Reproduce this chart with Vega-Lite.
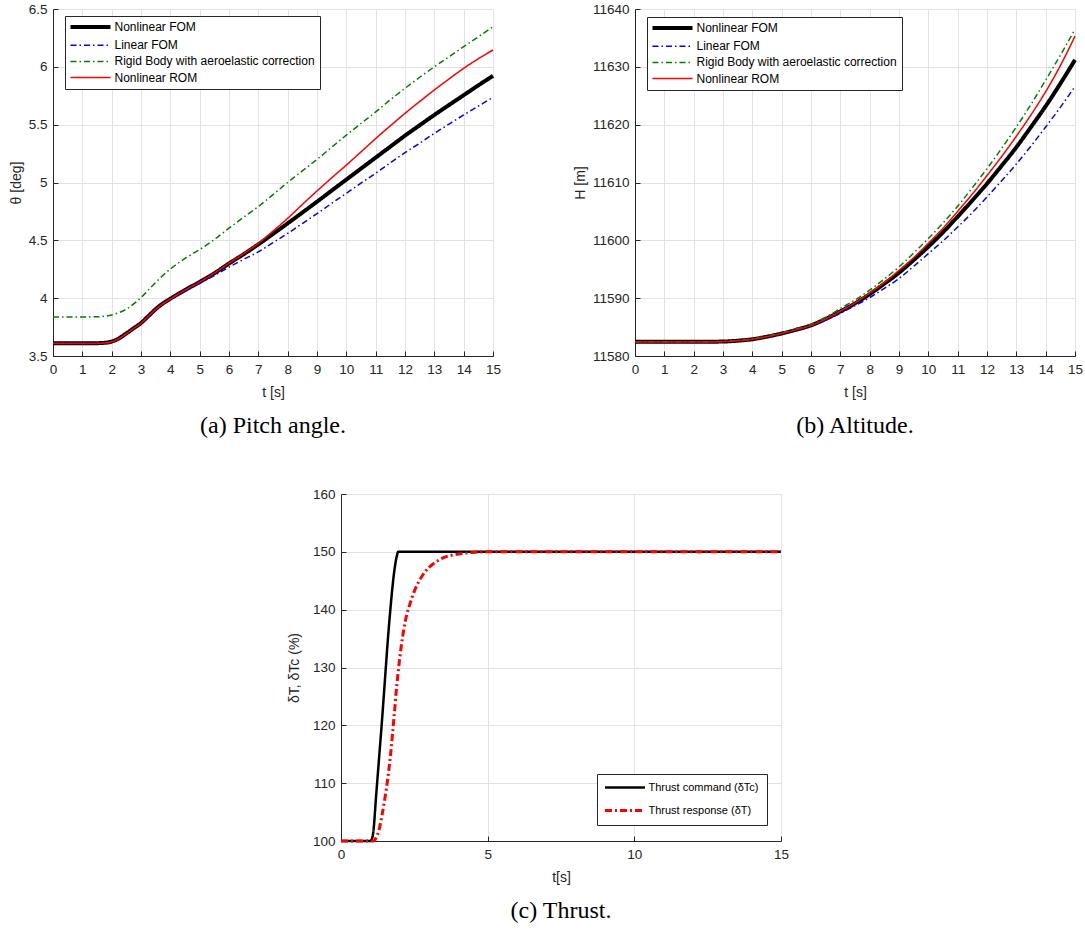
{
  "$schema": "https://vega.github.io/schema/vega-lite/v6.json",
  "padding": {"left": 9, "top": 2, "right": 0, "bottom": 0},
  "background": "white",
  "datasets": {
    "theta": [
      {"t": 0, "v": 3.61, "s": "Nonlinear FOM"}, {"t": 1, "v": 3.61, "s": "Nonlinear FOM"}, {"t": 1.5, "v": 3.611, "s": "Nonlinear FOM"}, {"t": 1.8, "v": 3.615, "s": "Nonlinear FOM"}, {"t": 2, "v": 3.625, "s": "Nonlinear FOM"}, {"t": 2.25, "v": 3.652, "s": "Nonlinear FOM"}, {"t": 2.5, "v": 3.695, "s": "Nonlinear FOM"}, {"t": 2.75, "v": 3.74, "s": "Nonlinear FOM"}, {"t": 3, "v": 3.785, "s": "Nonlinear FOM"}, {"t": 3.25, "v": 3.845, "s": "Nonlinear FOM"}, {"t": 3.5, "v": 3.905, "s": "Nonlinear FOM"}, {"t": 3.75, "v": 3.955, "s": "Nonlinear FOM"}, {"t": 4, "v": 3.995, "s": "Nonlinear FOM"}, {"t": 4.5, "v": 4.07, "s": "Nonlinear FOM"}, {"t": 5, "v": 4.14, "s": "Nonlinear FOM"}, {"t": 5.5, "v": 4.215, "s": "Nonlinear FOM"}, {"t": 6, "v": 4.3, "s": "Nonlinear FOM"}, {"t": 6.5, "v": 4.38, "s": "Nonlinear FOM"}, {"t": 7, "v": 4.465, "s": "Nonlinear FOM"}, {"t": 7.5, "v": 4.555, "s": "Nonlinear FOM"}, {"t": 8, "v": 4.647, "s": "Nonlinear FOM"}, {"t": 8.5, "v": 4.74, "s": "Nonlinear FOM"}, {"t": 9, "v": 4.834, "s": "Nonlinear FOM"}, {"t": 9.5, "v": 4.93, "s": "Nonlinear FOM"}, {"t": 10, "v": 5.025, "s": "Nonlinear FOM"}, {"t": 10.5, "v": 5.12, "s": "Nonlinear FOM"}, {"t": 11, "v": 5.215, "s": "Nonlinear FOM"}, {"t": 11.5, "v": 5.31, "s": "Nonlinear FOM"}, {"t": 12, "v": 5.405, "s": "Nonlinear FOM"}, {"t": 12.5, "v": 5.495, "s": "Nonlinear FOM"}, {"t": 13, "v": 5.584, "s": "Nonlinear FOM"}, {"t": 13.5, "v": 5.67, "s": "Nonlinear FOM"}, {"t": 14, "v": 5.755, "s": "Nonlinear FOM"}, {"t": 14.5, "v": 5.84, "s": "Nonlinear FOM"}, {"t": 15, "v": 5.922, "s": "Nonlinear FOM"},
      {"t": 0, "v": 3.61, "s": "Linear FOM"}, {"t": 1, "v": 3.61, "s": "Linear FOM"}, {"t": 1.5, "v": 3.611, "s": "Linear FOM"}, {"t": 1.8, "v": 3.615, "s": "Linear FOM"}, {"t": 2, "v": 3.625, "s": "Linear FOM"}, {"t": 2.25, "v": 3.652, "s": "Linear FOM"}, {"t": 2.5, "v": 3.695, "s": "Linear FOM"}, {"t": 2.75, "v": 3.74, "s": "Linear FOM"}, {"t": 3, "v": 3.785, "s": "Linear FOM"}, {"t": 3.25, "v": 3.845, "s": "Linear FOM"}, {"t": 3.5, "v": 3.903, "s": "Linear FOM"}, {"t": 3.75, "v": 3.952, "s": "Linear FOM"}, {"t": 4, "v": 3.99, "s": "Linear FOM"}, {"t": 4.5, "v": 4.06, "s": "Linear FOM"}, {"t": 5, "v": 4.128, "s": "Linear FOM"}, {"t": 5.5, "v": 4.195, "s": "Linear FOM"}, {"t": 6, "v": 4.268, "s": "Linear FOM"}, {"t": 6.5, "v": 4.335, "s": "Linear FOM"}, {"t": 7, "v": 4.4, "s": "Linear FOM"}, {"t": 7.5, "v": 4.48, "s": "Linear FOM"}, {"t": 8, "v": 4.56, "s": "Linear FOM"}, {"t": 8.5, "v": 4.645, "s": "Linear FOM"}, {"t": 9, "v": 4.73, "s": "Linear FOM"}, {"t": 9.5, "v": 4.82, "s": "Linear FOM"}, {"t": 10, "v": 4.906, "s": "Linear FOM"}, {"t": 10.5, "v": 4.995, "s": "Linear FOM"}, {"t": 11, "v": 5.08, "s": "Linear FOM"}, {"t": 11.5, "v": 5.17, "s": "Linear FOM"}, {"t": 12, "v": 5.258, "s": "Linear FOM"}, {"t": 12.5, "v": 5.34, "s": "Linear FOM"}, {"t": 13, "v": 5.425, "s": "Linear FOM"}, {"t": 13.5, "v": 5.505, "s": "Linear FOM"}, {"t": 14, "v": 5.584, "s": "Linear FOM"}, {"t": 14.5, "v": 5.66, "s": "Linear FOM"}, {"t": 15, "v": 5.736, "s": "Linear FOM"},
      {"t": 0, "v": 3.838, "s": "Rigid Body with aeroelastic correction"}, {"t": 1, "v": 3.838, "s": "Rigid Body with aeroelastic correction"}, {"t": 1.5, "v": 3.839, "s": "Rigid Body with aeroelastic correction"}, {"t": 1.8, "v": 3.845, "s": "Rigid Body with aeroelastic correction"}, {"t": 2, "v": 3.855, "s": "Rigid Body with aeroelastic correction"}, {"t": 2.25, "v": 3.875, "s": "Rigid Body with aeroelastic correction"}, {"t": 2.5, "v": 3.905, "s": "Rigid Body with aeroelastic correction"}, {"t": 2.75, "v": 3.95, "s": "Rigid Body with aeroelastic correction"}, {"t": 3, "v": 4.005, "s": "Rigid Body with aeroelastic correction"}, {"t": 3.25, "v": 4.07, "s": "Rigid Body with aeroelastic correction"}, {"t": 3.5, "v": 4.135, "s": "Rigid Body with aeroelastic correction"}, {"t": 3.75, "v": 4.198, "s": "Rigid Body with aeroelastic correction"}, {"t": 4, "v": 4.252, "s": "Rigid Body with aeroelastic correction"}, {"t": 4.5, "v": 4.343, "s": "Rigid Body with aeroelastic correction"}, {"t": 5, "v": 4.42, "s": "Rigid Body with aeroelastic correction"}, {"t": 5.5, "v": 4.507, "s": "Rigid Body with aeroelastic correction"}, {"t": 6, "v": 4.605, "s": "Rigid Body with aeroelastic correction"}, {"t": 6.5, "v": 4.7, "s": "Rigid Body with aeroelastic correction"}, {"t": 7, "v": 4.792, "s": "Rigid Body with aeroelastic correction"}, {"t": 7.5, "v": 4.895, "s": "Rigid Body with aeroelastic correction"}, {"t": 8, "v": 5.0, "s": "Rigid Body with aeroelastic correction"}, {"t": 8.5, "v": 5.1, "s": "Rigid Body with aeroelastic correction"}, {"t": 9, "v": 5.2, "s": "Rigid Body with aeroelastic correction"}, {"t": 9.5, "v": 5.305, "s": "Rigid Body with aeroelastic correction"}, {"t": 10, "v": 5.41, "s": "Rigid Body with aeroelastic correction"}, {"t": 10.5, "v": 5.51, "s": "Rigid Body with aeroelastic correction"}, {"t": 11, "v": 5.61, "s": "Rigid Body with aeroelastic correction"}, {"t": 11.5, "v": 5.715, "s": "Rigid Body with aeroelastic correction"}, {"t": 12, "v": 5.814, "s": "Rigid Body with aeroelastic correction"}, {"t": 12.5, "v": 5.91, "s": "Rigid Body with aeroelastic correction"}, {"t": 13, "v": 6.0, "s": "Rigid Body with aeroelastic correction"}, {"t": 13.5, "v": 6.087, "s": "Rigid Body with aeroelastic correction"}, {"t": 14, "v": 6.174, "s": "Rigid Body with aeroelastic correction"}, {"t": 14.5, "v": 6.26, "s": "Rigid Body with aeroelastic correction"}, {"t": 15, "v": 6.347, "s": "Rigid Body with aeroelastic correction"},
      {"t": 0, "v": 3.608, "s": "Nonlinear ROM"}, {"t": 1, "v": 3.608, "s": "Nonlinear ROM"}, {"t": 1.5, "v": 3.609, "s": "Nonlinear ROM"}, {"t": 1.8, "v": 3.613, "s": "Nonlinear ROM"}, {"t": 2, "v": 3.623, "s": "Nonlinear ROM"}, {"t": 2.25, "v": 3.65, "s": "Nonlinear ROM"}, {"t": 2.5, "v": 3.693, "s": "Nonlinear ROM"}, {"t": 2.75, "v": 3.738, "s": "Nonlinear ROM"}, {"t": 3, "v": 3.783, "s": "Nonlinear ROM"}, {"t": 3.25, "v": 3.843, "s": "Nonlinear ROM"}, {"t": 3.5, "v": 3.903, "s": "Nonlinear ROM"}, {"t": 3.75, "v": 3.953, "s": "Nonlinear ROM"}, {"t": 4, "v": 3.993, "s": "Nonlinear ROM"}, {"t": 4.5, "v": 4.07, "s": "Nonlinear ROM"}, {"t": 5, "v": 4.14, "s": "Nonlinear ROM"}, {"t": 5.5, "v": 4.216, "s": "Nonlinear ROM"}, {"t": 6, "v": 4.302, "s": "Nonlinear ROM"}, {"t": 6.5, "v": 4.385, "s": "Nonlinear ROM"}, {"t": 7, "v": 4.474, "s": "Nonlinear ROM"}, {"t": 7.5, "v": 4.58, "s": "Nonlinear ROM"}, {"t": 8, "v": 4.69, "s": "Nonlinear ROM"}, {"t": 8.5, "v": 4.81, "s": "Nonlinear ROM"}, {"t": 9, "v": 4.927, "s": "Nonlinear ROM"}, {"t": 9.5, "v": 5.04, "s": "Nonlinear ROM"}, {"t": 10, "v": 5.15, "s": "Nonlinear ROM"}, {"t": 10.5, "v": 5.265, "s": "Nonlinear ROM"}, {"t": 11, "v": 5.38, "s": "Nonlinear ROM"}, {"t": 11.5, "v": 5.49, "s": "Nonlinear ROM"}, {"t": 12, "v": 5.598, "s": "Nonlinear ROM"}, {"t": 12.5, "v": 5.7, "s": "Nonlinear ROM"}, {"t": 13, "v": 5.8, "s": "Nonlinear ROM"}, {"t": 13.5, "v": 5.895, "s": "Nonlinear ROM"}, {"t": 14, "v": 5.987, "s": "Nonlinear ROM"}, {"t": 14.5, "v": 6.07, "s": "Nonlinear ROM"}, {"t": 15, "v": 6.146, "s": "Nonlinear ROM"}
    ],
    "alt": [
      {"t": 0, "v": 11582.45, "s": "Nonlinear FOM"}, {"t": 2, "v": 11582.45, "s": "Nonlinear FOM"}, {"t": 3, "v": 11582.5, "s": "Nonlinear FOM"}, {"t": 3.5, "v": 11582.65, "s": "Nonlinear FOM"}, {"t": 4, "v": 11582.9, "s": "Nonlinear FOM"}, {"t": 4.5, "v": 11583.35, "s": "Nonlinear FOM"}, {"t": 5, "v": 11583.9, "s": "Nonlinear FOM"}, {"t": 5.5, "v": 11584.55, "s": "Nonlinear FOM"}, {"t": 6, "v": 11585.3, "s": "Nonlinear FOM"}, {"t": 6.5, "v": 11586.4, "s": "Nonlinear FOM"}, {"t": 7, "v": 11587.7, "s": "Nonlinear FOM"}, {"t": 7.5, "v": 11589.1, "s": "Nonlinear FOM"}, {"t": 8, "v": 11590.7, "s": "Nonlinear FOM"}, {"t": 8.5, "v": 11592.5, "s": "Nonlinear FOM"}, {"t": 9, "v": 11594.4, "s": "Nonlinear FOM"}, {"t": 9.5, "v": 11596.6, "s": "Nonlinear FOM"}, {"t": 10, "v": 11598.9, "s": "Nonlinear FOM"}, {"t": 10.5, "v": 11601.4, "s": "Nonlinear FOM"}, {"t": 11, "v": 11604.1, "s": "Nonlinear FOM"}, {"t": 11.5, "v": 11606.9, "s": "Nonlinear FOM"}, {"t": 12, "v": 11609.8, "s": "Nonlinear FOM"}, {"t": 12.5, "v": 11612.9, "s": "Nonlinear FOM"}, {"t": 13, "v": 11616.1, "s": "Nonlinear FOM"}, {"t": 13.5, "v": 11619.6, "s": "Nonlinear FOM"}, {"t": 14, "v": 11623.2, "s": "Nonlinear FOM"}, {"t": 14.5, "v": 11627.1, "s": "Nonlinear FOM"}, {"t": 15, "v": 11631.2, "s": "Nonlinear FOM"},
      {"t": 0, "v": 11582.45, "s": "Linear FOM"}, {"t": 2, "v": 11582.45, "s": "Linear FOM"}, {"t": 3, "v": 11582.5, "s": "Linear FOM"}, {"t": 3.5, "v": 11582.65, "s": "Linear FOM"}, {"t": 4, "v": 11582.9, "s": "Linear FOM"}, {"t": 4.5, "v": 11583.33, "s": "Linear FOM"}, {"t": 5, "v": 11583.85, "s": "Linear FOM"}, {"t": 5.5, "v": 11584.5, "s": "Linear FOM"}, {"t": 6, "v": 11585.2, "s": "Linear FOM"}, {"t": 6.5, "v": 11586.2, "s": "Linear FOM"}, {"t": 7, "v": 11587.4, "s": "Linear FOM"}, {"t": 7.5, "v": 11588.7, "s": "Linear FOM"}, {"t": 8, "v": 11590.1, "s": "Linear FOM"}, {"t": 8.5, "v": 11591.7, "s": "Linear FOM"}, {"t": 9, "v": 11593.4, "s": "Linear FOM"}, {"t": 9.5, "v": 11595.5, "s": "Linear FOM"}, {"t": 10, "v": 11597.7, "s": "Linear FOM"}, {"t": 10.5, "v": 11599.9, "s": "Linear FOM"}, {"t": 11, "v": 11602.3, "s": "Linear FOM"}, {"t": 11.5, "v": 11604.8, "s": "Linear FOM"}, {"t": 12, "v": 11607.5, "s": "Linear FOM"}, {"t": 12.5, "v": 11610.3, "s": "Linear FOM"}, {"t": 13, "v": 11613.2, "s": "Linear FOM"}, {"t": 13.5, "v": 11616.3, "s": "Linear FOM"}, {"t": 14, "v": 11619.6, "s": "Linear FOM"}, {"t": 14.5, "v": 11623.0, "s": "Linear FOM"}, {"t": 15, "v": 11626.6, "s": "Linear FOM"},
      {"t": 0, "v": 11582.45, "s": "Rigid Body with aeroelastic correction"}, {"t": 2, "v": 11582.45, "s": "Rigid Body with aeroelastic correction"}, {"t": 3, "v": 11582.52, "s": "Rigid Body with aeroelastic correction"}, {"t": 3.5, "v": 11582.7, "s": "Rigid Body with aeroelastic correction"}, {"t": 4, "v": 11583.0, "s": "Rigid Body with aeroelastic correction"}, {"t": 4.5, "v": 11583.45, "s": "Rigid Body with aeroelastic correction"}, {"t": 5, "v": 11584.0, "s": "Rigid Body with aeroelastic correction"}, {"t": 5.5, "v": 11584.7, "s": "Rigid Body with aeroelastic correction"}, {"t": 6, "v": 11585.5, "s": "Rigid Body with aeroelastic correction"}, {"t": 6.5, "v": 11586.7, "s": "Rigid Body with aeroelastic correction"}, {"t": 7, "v": 11588.2, "s": "Rigid Body with aeroelastic correction"}, {"t": 7.5, "v": 11589.7, "s": "Rigid Body with aeroelastic correction"}, {"t": 8, "v": 11591.4, "s": "Rigid Body with aeroelastic correction"}, {"t": 8.5, "v": 11593.3, "s": "Rigid Body with aeroelastic correction"}, {"t": 9, "v": 11595.4, "s": "Rigid Body with aeroelastic correction"}, {"t": 9.5, "v": 11597.8, "s": "Rigid Body with aeroelastic correction"}, {"t": 10, "v": 11600.3, "s": "Rigid Body with aeroelastic correction"}, {"t": 10.5, "v": 11603.0, "s": "Rigid Body with aeroelastic correction"}, {"t": 11, "v": 11605.9, "s": "Rigid Body with aeroelastic correction"}, {"t": 11.5, "v": 11609.1, "s": "Rigid Body with aeroelastic correction"}, {"t": 12, "v": 11612.4, "s": "Rigid Body with aeroelastic correction"}, {"t": 12.5, "v": 11615.9, "s": "Rigid Body with aeroelastic correction"}, {"t": 13, "v": 11619.6, "s": "Rigid Body with aeroelastic correction"}, {"t": 13.5, "v": 11623.5, "s": "Rigid Body with aeroelastic correction"}, {"t": 14, "v": 11627.7, "s": "Rigid Body with aeroelastic correction"}, {"t": 14.5, "v": 11632.0, "s": "Rigid Body with aeroelastic correction"}, {"t": 15, "v": 11636.5, "s": "Rigid Body with aeroelastic correction"},
      {"t": 0, "v": 11582.4, "s": "Nonlinear ROM"}, {"t": 2, "v": 11582.4, "s": "Nonlinear ROM"}, {"t": 3, "v": 11582.48, "s": "Nonlinear ROM"}, {"t": 3.5, "v": 11582.63, "s": "Nonlinear ROM"}, {"t": 4, "v": 11582.9, "s": "Nonlinear ROM"}, {"t": 4.5, "v": 11583.35, "s": "Nonlinear ROM"}, {"t": 5, "v": 11583.9, "s": "Nonlinear ROM"}, {"t": 5.5, "v": 11584.55, "s": "Nonlinear ROM"}, {"t": 6, "v": 11585.3, "s": "Nonlinear ROM"}, {"t": 6.5, "v": 11586.4, "s": "Nonlinear ROM"}, {"t": 7, "v": 11587.75, "s": "Nonlinear ROM"}, {"t": 7.5, "v": 11589.2, "s": "Nonlinear ROM"}, {"t": 8, "v": 11590.9, "s": "Nonlinear ROM"}, {"t": 8.5, "v": 11592.7, "s": "Nonlinear ROM"}, {"t": 9, "v": 11594.8, "s": "Nonlinear ROM"}, {"t": 9.5, "v": 11597.0, "s": "Nonlinear ROM"}, {"t": 10, "v": 11599.5, "s": "Nonlinear ROM"}, {"t": 10.5, "v": 11602.1, "s": "Nonlinear ROM"}, {"t": 11, "v": 11605.0, "s": "Nonlinear ROM"}, {"t": 11.5, "v": 11608.0, "s": "Nonlinear ROM"}, {"t": 12, "v": 11611.2, "s": "Nonlinear ROM"}, {"t": 12.5, "v": 11614.5, "s": "Nonlinear ROM"}, {"t": 13, "v": 11618.0, "s": "Nonlinear ROM"}, {"t": 13.5, "v": 11621.7, "s": "Nonlinear ROM"}, {"t": 14, "v": 11625.7, "s": "Nonlinear ROM"}, {"t": 14.5, "v": 11630.2, "s": "Nonlinear ROM"}, {"t": 15, "v": 11635.3, "s": "Nonlinear ROM"}
    ],
    "thrust": [
      {"t": 0, "v": 100, "s": "Thrust command (δTc)"}, {"t": 1.0, "v": 100, "s": "Thrust command (δTc)"}, {"t": 1.05, "v": 100.3, "s": "Thrust command (δTc)"}, {"t": 1.1, "v": 101.5, "s": "Thrust command (δTc)"}, {"t": 1.2, "v": 108, "s": "Thrust command (δTc)"}, {"t": 1.3, "v": 114.5, "s": "Thrust command (δTc)"}, {"t": 1.4, "v": 121, "s": "Thrust command (δTc)"}, {"t": 1.5, "v": 128, "s": "Thrust command (δTc)"}, {"t": 1.6, "v": 135, "s": "Thrust command (δTc)"}, {"t": 1.7, "v": 141, "s": "Thrust command (δTc)"}, {"t": 1.8, "v": 146, "s": "Thrust command (δTc)"}, {"t": 1.9, "v": 149.2, "s": "Thrust command (δTc)"}, {"t": 1.95, "v": 150, "s": "Thrust command (δTc)"}, {"t": 2.0, "v": 150, "s": "Thrust command (δTc)"}, {"t": 15, "v": 150, "s": "Thrust command (δTc)"},
      {"t": 0, "v": 100, "s": "Thrust response (δT)"}, {"t": 1.1, "v": 100, "s": "Thrust response (δT)"}, {"t": 1.2, "v": 100.6, "s": "Thrust response (δT)"}, {"t": 1.3, "v": 102, "s": "Thrust response (δT)"}, {"t": 1.4, "v": 104.5, "s": "Thrust response (δT)"}, {"t": 1.5, "v": 107.5, "s": "Thrust response (δT)"}, {"t": 1.6, "v": 111, "s": "Thrust response (δT)"}, {"t": 1.7, "v": 115.5, "s": "Thrust response (δT)"}, {"t": 1.8, "v": 121, "s": "Thrust response (δT)"}, {"t": 1.9, "v": 126.8, "s": "Thrust response (δT)"}, {"t": 2.0, "v": 131.5, "s": "Thrust response (δT)"}, {"t": 2.1, "v": 135.3, "s": "Thrust response (δT)"}, {"t": 2.2, "v": 138.2, "s": "Thrust response (δT)"}, {"t": 2.35, "v": 141, "s": "Thrust response (δT)"}, {"t": 2.5, "v": 143.2, "s": "Thrust response (δT)"}, {"t": 2.75, "v": 145.7, "s": "Thrust response (δT)"}, {"t": 3.0, "v": 147.3, "s": "Thrust response (δT)"}, {"t": 3.25, "v": 148.3, "s": "Thrust response (δT)"}, {"t": 3.5, "v": 149, "s": "Thrust response (δT)"}, {"t": 4.0, "v": 149.6, "s": "Thrust response (δT)"}, {"t": 4.5, "v": 149.9, "s": "Thrust response (δT)"}, {"t": 5.0, "v": 150, "s": "Thrust response (δT)"}, {"t": 15, "v": 150, "s": "Thrust response (δT)"}
    ]
  },
  "vconcat": [
    {
      "hconcat": [
        {
          "width": 440, "height": 347,
          "data": {"name": "theta"},
          "title": {"text": "(a) Pitch angle.", "orient": "bottom", "frame": "group", "anchor": "middle", "font": "Liberation Serif", "fontSize": 24, "fontWeight": "normal", "color": "black", "offset": 14},
          "mark": {"type": "line", "interpolate": "monotone"},
          "encoding": {
            "x": {"field": "t", "type": "quantitative", "scale": {"domain": [0, 15], "nice": false}, "axis": {"title": "t [s]", "titlePadding": 10, "values": [0,1,2,3,4,5,6,7,8,9,10,11,12,13,14,15], "format": "d"}},
            "y": {"field": "v", "type": "quantitative", "scale": {"domain": [3.5, 6.5], "nice": false, "zero": false}, "axis": {"title": "θ [deg]", "values": [3.5,4,4.5,5,5.5,6,6.5], "format": ".1~f"}},
            "color": {"field": "s", "type": "nominal", "scale": {"domain": ["Nonlinear FOM", "Linear FOM", "Rigid Body with aeroelastic correction", "Nonlinear ROM"], "range": ["#000000", "#0000ff", "#008000", "#ff0000"]}, "legend": {"orient": "none", "legendX": 12, "legendY": 7, "labelFontSize": 12, "rowPadding": 4.2}},
            "strokeDash": {"field": "s", "type": "nominal", "scale": {"domain": ["Nonlinear FOM", "Linear FOM", "Rigid Body with aeroelastic correction", "Nonlinear ROM"], "range": [[1, 0], [6, 3, 1.5, 3], [6, 3, 1.5, 3], [1, 0]]}, "legend": {"orient": "none", "legendX": 12, "legendY": 7, "labelFontSize": 12, "rowPadding": 4.2}},
            "strokeWidth": {"field": "s", "type": "nominal", "scale": {"type": "ordinal", "domain": ["Nonlinear FOM", "Linear FOM", "Rigid Body with aeroelastic correction", "Nonlinear ROM"], "range": [4, 1.5, 1.5, 1.5]}, "legend": {"orient": "none", "legendX": 12, "legendY": 7, "labelFontSize": 12, "rowPadding": 4.2}}
          }
        },
        {
          "width": 440, "height": 347,
          "data": {"name": "alt"},
          "title": {"text": "(b) Altitude.", "orient": "bottom", "frame": "group", "anchor": "middle", "font": "Liberation Serif", "fontSize": 24, "fontWeight": "normal", "color": "black", "offset": 14},
          "mark": {"type": "line", "interpolate": "monotone"},
          "encoding": {
            "x": {"field": "t", "type": "quantitative", "scale": {"domain": [0, 15], "nice": false}, "axis": {"title": "t [s]", "titlePadding": 10, "values": [0,1,2,3,4,5,6,7,8,9,10,11,12,13,14,15], "format": "d"}},
            "y": {"field": "v", "type": "quantitative", "scale": {"domain": [11580, 11640], "nice": false, "zero": false}, "axis": {"title": "H [m]", "values": [11580,11590,11600,11610,11620,11630,11640], "format": "d"}},
            "color": {"field": "s", "type": "nominal", "scale": {"domain": ["Nonlinear FOM", "Linear FOM", "Rigid Body with aeroelastic correction", "Nonlinear ROM"], "range": ["#000000", "#0000ff", "#008000", "#ff0000"]}, "legend": {"orient": "none", "legendX": 12, "legendY": 8, "labelFontSize": 12, "rowPadding": 4.2}},
            "strokeDash": {"field": "s", "type": "nominal", "scale": {"domain": ["Nonlinear FOM", "Linear FOM", "Rigid Body with aeroelastic correction", "Nonlinear ROM"], "range": [[1, 0], [6, 3, 1.5, 3], [6, 3, 1.5, 3], [1, 0]]}, "legend": {"orient": "none", "legendX": 12, "legendY": 8, "labelFontSize": 12, "rowPadding": 4.2}},
            "strokeWidth": {"field": "s", "type": "nominal", "scale": {"type": "ordinal", "domain": ["Nonlinear FOM", "Linear FOM", "Rigid Body with aeroelastic correction", "Nonlinear ROM"], "range": [4, 1.5, 1.5, 1.5]}, "legend": {"orient": "none", "legendX": 12, "legendY": 8, "labelFontSize": 12, "rowPadding": 4.2}}
          }
        }
      ],
      "spacing": 72,
      "resolve": {"scale": {"color": "independent", "strokeDash": "independent", "strokeWidth": "independent"}}
    },
    {
      "hconcat": [
        {
          "width": 234, "height": 10,
          "data": {"values": []},
          "mark": "point"
        },
        {
          "width": 440, "height": 347,
          "data": {"name": "thrust"},
          "title": {"text": "(c) Thrust.", "orient": "bottom", "frame": "group", "anchor": "middle", "font": "Liberation Serif", "fontSize": 24, "fontWeight": "normal", "color": "black", "offset": 14},
          "mark": {"type": "line", "interpolate": "monotone"},
          "encoding": {
            "x": {"field": "t", "type": "quantitative", "scale": {"domain": [0, 15], "nice": false}, "axis": {"title": "t[s]", "titlePadding": 10, "values": [0, 5, 10, 15], "format": "d"}},
            "y": {"field": "v", "type": "quantitative", "scale": {"domain": [100, 160], "nice": false, "zero": false}, "axis": {"title": "δT, δTc (%)", "titlePadding": 11, "values": [100,110,120,130,140,150,160], "format": "d"}},
            "color": {"field": "s", "type": "nominal", "scale": {"domain": ["Thrust command (δTc)", "Thrust response (δT)"], "range": ["#000000", "#ff0000"]}, "legend": {"orient": "none", "legendX": 544, "legendY": 280, "rowPadding": 11, "padding": 8}},
            "strokeDash": {"field": "s", "type": "nominal", "scale": {"domain": ["Thrust command (δTc)", "Thrust response (δT)"], "range": [[1, 0], [7, 3, 2, 3]]}, "legend": {"orient": "none", "legendX": 544, "legendY": 280, "rowPadding": 11, "padding": 8}},
            "strokeWidth": {"field": "s", "type": "nominal", "scale": {"type": "ordinal", "domain": ["Thrust command (δTc)", "Thrust response (δT)"], "range": [2.5, 3]}, "legend": {"orient": "none", "legendX": 544, "legendY": 280, "rowPadding": 11, "padding": 8}}
          }
        }
      ],
      "spacing": 0
    }
  ],
  "spacing": 49,
  "resolve": {"scale": {"color": "independent", "strokeDash": "independent", "strokeWidth": "independent"}},
  "config": {
    "view": {"stroke": null},
    "font": "Liberation Sans",
    "axis": {
      "labelFont": "Liberation Sans", "titleFont": "Liberation Sans",
      "labelFontSize": 13.5, "titleFontSize": 14, "titleFontWeight": "normal",
      "labelColor": "#262626", "titleColor": "#262626",
      "domainColor": "#262626", "domainWidth": 1,
      "tickColor": "#262626", "tickSize": -5, "tickWidth": 1,
      "gridColor": "#e3e3e3", "gridOpacity": 1, "gridWidth": 1,
      "labelPadding": 11, "titlePadding": 5,
      "labelFlush": false, "labelOverlap": false
    },
    "legend": {
      "title": null,
      "labelFont": "Liberation Sans", "labelFontSize": 11, "labelColor": "#000000", "labelLimit": 400,
      "strokeColor": "#262626", "fillColor": "white",
      "padding": 5, "rowPadding": 2.7, "cornerRadius": 0,
      "symbolType": "M-6.67,0H6.67", "symbolSize": 36, "symbolOffset": 14.5, "labelOffset": 18
    }
  }
}
